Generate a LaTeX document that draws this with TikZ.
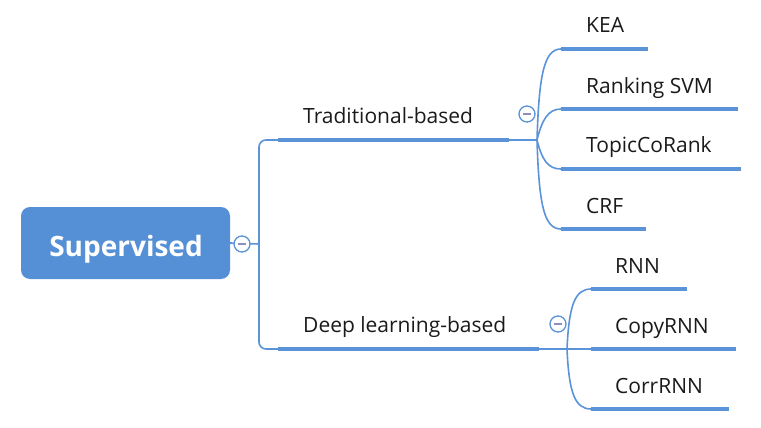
\documentclass[tikz,border=0pt]{standalone}
\usepackage{fontspec}
\setmainfont{Open Sans}
\definecolor{mmblue}{HTML}{5590D6}
\definecolor{mmline}{HTML}{5B93D8}
\definecolor{mmdash}{HTML}{8E8EC0}
\definecolor{mmtext}{HTML}{1A1A1A}
\begin{document}
\begin{tikzpicture}[x=1pt,y=-1pt,
  twig/.style={draw=mmline,line width=1.6pt},
  bar/.style={draw=mmline,line width=4.5pt},
  lab/.style={anchor=base west,inner sep=0pt,font=\fontsize{21}{24}\selectfont,text=mmtext},
  knob/.style={circle,draw=mmline,line width=1.3pt,fill=white,minimum size=16pt,inner sep=0pt},
  dashmark/.style={draw=mmdash,line width=1.5pt}]
\useasboundingbox (0,0) rectangle (761,428);

% root
\coordinate (sp) at (259,244);
\node[rounded corners=9pt, fill=mmblue, minimum width=209pt, minimum height=72pt, inner sep=0pt] (root) at (125.5,243) {};
\node[anchor=base, inner sep=0pt, text=white, font=\bfseries\fontsize{28}{32}\selectfont] (roottxt) at (126,256) {Supervised};

% main branch coordinates
\coordinate (tA) at (278,140); \coordinate (tB) at (509,140); \coordinate (tJ) at (537,140);
\coordinate (dA) at (278,349); \coordinate (dB) at (539,349); \coordinate (dJ) at (567,349);

% trunk
\draw[twig] (root.east) -- (sp);
\draw[twig,rounded corners=7pt] (tA) -| (sp) |- (dA);
\node[knob] (k0) at (242,244) {};
\draw[dashmark] ([xshift=-4pt]k0.center) -- ([xshift=4pt]k0.center);

% Traditional-based
\draw[bar] (tA) -- (tB);
\draw[twig] (tB) -- (tJ);
\node[lab] (trad) at (303,123) {Traditional-based};
\node[knob] (k1) at (527,114) {};
\draw[dashmark] ([xshift=-4pt]k1.center) -- ([xshift=4pt]k1.center);

\coordinate (a1) at (561,49);  \coordinate (b1) at (648,49);
\coordinate (a2) at (561,109); \coordinate (b2) at (738,109);
\coordinate (a3) at (561,169); \coordinate (b3) at (741,169);
\coordinate (a4) at (561,229); \coordinate (b4) at (646,229);
\draw[twig] (tJ) .. controls +(2,-65) and +(-17,0) .. (a1);
\draw[twig] (tJ) .. controls +(5,-20) and +(-13,0) .. (a2);
\draw[twig] (tJ) .. controls +(5,20) and +(-13,0) .. (a3);
\draw[twig] (tJ) .. controls +(2,65) and +(-17,0) .. (a4);
\draw[bar] (a1) -- (b1);
\draw[bar] (a2) -- (b2);
\draw[bar] (a3) -- (b3);
\draw[bar] (a4) -- (b4);
\node[lab] (kea) at (586,33) {KEA};
\node[lab] (svm) at (586,93) {Ranking SVM};
\node[lab] (tcr) at (586,153) {TopicCoRank};
\node[lab] (crf) at (586,213) {CRF};

% Deep learning-based
\draw[bar] (dA) -- (dB);
\draw[twig] (dB) -- (dJ);
\node[lab] (deep) at (303,332) {Deep learning-based};
\node[knob] (k2) at (558,324) {};
\draw[dashmark] ([xshift=-4pt]k2.center) -- ([xshift=4pt]k2.center);

\coordinate (c1) at (591,289); \coordinate (e1) at (687,289);
\coordinate (c2) at (591,349); \coordinate (e2) at (736,349);
\coordinate (c3) at (591,409); \coordinate (e3) at (729,409);
\draw[twig] (dJ) .. controls +(2,-44) and +(-16,0) .. (c1);
\draw[twig] (dJ) -- (c2);
\draw[twig] (dJ) .. controls +(2,44) and +(-16,0) .. (c3);
\draw[bar] (c1) -- (e1);
\draw[bar] (c2) -- (e2);
\draw[bar] (c3) -- (e3);
\node[lab] (rnn) at (615,273) {RNN};
\node[lab] (copy) at (615,333) {CopyRNN};
\node[lab] (corr) at (615,393) {CorrRNN};
\end{tikzpicture}
\end{document}
